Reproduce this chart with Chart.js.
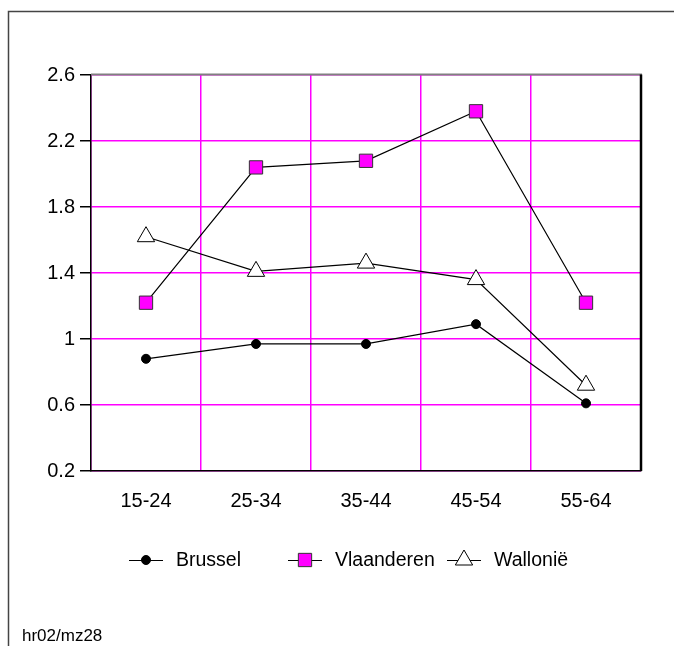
<!DOCTYPE html>
<html>
<head>
<meta charset="utf-8">
<script src="https://cdn.jsdelivr.net/npm/chart.js@4.4.1/dist/chart.umd.min.js"></script>
<style>
  html, body { margin: 0; padding: 0; background: #fff; overflow: hidden; }
  canvas { display: block; }
</style>
</head>
<body>
<canvas id="chart" width="674" height="646"></canvas>
<script>
// ── Data ────────────────────────────────────────────────────────────
const ageGroups  = ['15-24', '25-34', '35-44', '45-54', '55-64'];
const brussel    = [0.88, 0.97, 0.97, 1.09, 0.61];
const vlaanderen = [1.22, 2.04, 2.08, 2.38, 1.22];
const wallonie   = [1.62, 1.41, 1.46, 1.36, 0.72];
const yTicks     = [0.2, 0.6, 1, 1.4, 1.8, 2.2, 2.6];
const footnote   = 'hr02/mz28';

const FONT = '"Liberation Sans", Arial, sans-serif';
const MAGENTA = '#ff00ff';

// ── Frame, plot border, footnote and Excel-style legend ─────────────
const framePlugin = {
  id: 'frame',
  beforeDraw(chart) {
    const c = chart.ctx;
    c.save();
    c.fillStyle = '#fff';
    c.fillRect(0, 0, chart.width, chart.height);
    c.strokeStyle = '#444';
    c.lineWidth = 1.5;
    c.strokeRect(8.5, 11.5, chart.width + 20, chart.height + 20);
    c.restore();
  },
  afterDatasetsDraw(chart) {
    // gray top edge and black right edge of the plot area
    const a = chart.chartArea;
    const c = chart.ctx;
    const top = Math.round(a.top) - 0.5;
    c.save();
    c.lineWidth = 2;
    c.strokeStyle = '#808080';
    c.beginPath();
    c.moveTo(a.left, top);
    c.lineTo(a.right + 1, top);
    c.stroke();
    c.lineWidth = 2.5;
    c.strokeStyle = '#000';
    c.beginPath();
    c.moveTo(a.right, top);
    c.lineTo(a.right, a.bottom);
    c.stroke();
    c.restore();
  },
  afterDraw(chart) {
    const c = chart.ctx;
    c.save();
    c.fillStyle = '#000';
    c.font = '17px ' + FONT;
    c.textBaseline = 'alphabetic';
    c.fillText(footnote, 22, 641);

    // legend: short line with marker, then label
    const startX = [129, 288, 447];
    const y = 560;
    c.font = '19.5px ' + FONT;
    c.textBaseline = 'middle';
    chart.data.datasets.forEach(function(ds, i) {
      const x0 = startX[i];
      c.strokeStyle = '#000';
      c.lineWidth = 1;
      c.beginPath();
      c.moveTo(x0, y + 0.5);
      c.lineTo(x0 + 34, y + 0.5);
      c.stroke();
      c.fillStyle = ds.pointBackgroundColor;
      c.strokeStyle = ds.pointBorderColor;
      c.lineWidth = ds.pointBorderWidth;
      Chart.helpers.drawPoint(c, {
        pointStyle: ds.pointStyle, radius: ds.pointRadius, rotation: 0, borderWidth: ds.pointBorderWidth
      }, x0 + 17, y);
      c.fillStyle = '#000';
      c.fillText(ds.label, x0 + 47, y + 1);
    });
    c.restore();
  }
};

// ── Chart ───────────────────────────────────────────────────────────
new Chart(document.getElementById('chart'), {
  type: 'line',
  data: {
    labels: ageGroups,
    datasets: [
      {
        label: 'Brussel', data: brussel,
        borderColor: '#000', borderWidth: 1.2,
        pointStyle: 'circle', pointRadius: 4.5,
        pointBackgroundColor: '#000', pointBorderColor: '#000', pointBorderWidth: 1
      },
      {
        label: 'Vlaanderen', data: vlaanderen,
        borderColor: '#000', borderWidth: 1.2,
        pointStyle: 'rect', pointRadius: 9.4,
        pointBackgroundColor: MAGENTA, pointBorderColor: '#333', pointBorderWidth: 1
      },
      {
        label: 'Wallonië', data: wallonie,
        borderColor: '#000', borderWidth: 1.2,
        pointStyle: 'triangle', pointRadius: 10,
        pointBackgroundColor: '#fff', pointBorderColor: '#000', pointBorderWidth: 1
      }
    ]
  },
  options: {
    responsive: false,
    animation: false,
    events: [],
    layout: { padding: { top: 75, right: 33, left: 0, bottom: 0 } },
    plugins: { legend: { display: false }, tooltip: { enabled: false } },
    scales: {
      x: {
        offset: true,
        grid: { offset: true, drawTicks: false, color: MAGENTA, lineWidth: 1.5 },
        border: { color: '#000', width: 1.5 },
        ticks: { color: '#000', font: { family: FONT, size: 20 }, padding: 18, maxRotation: 0 },
        afterFit: s => { s.height = 175; }
      },
      y: {
        min: 0.2, max: 2.6,
        afterBuildTicks: s => { s.ticks = yTicks.map(v => ({ value: v })); },
        grid: { color: MAGENTA, lineWidth: 1.5, tickColor: '#000', tickLength: 11 },
        border: { color: '#000', width: 1.5 },
        ticks: { color: '#000', font: { family: FONT, size: 20 }, padding: 5, callback: v => String(v) },
        afterFit: s => { s.width = 91; }
      }
    }
  },
  plugins: [framePlugin]
});
</script>
</body>
</html>
